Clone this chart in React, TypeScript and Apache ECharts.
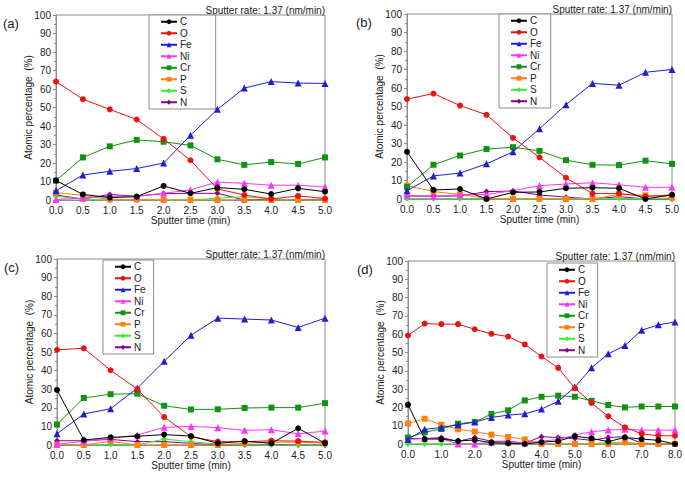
import React, { useEffect, useRef } from "react";
import * as echarts from "echarts";

const ELEMENTS = ["C", "O", "Fe", "Ni", "Cr", "P", "S", "N"];
const COLORS = ["#000000", "#ee1111", "#1f1fd0", "#ff33ff", "#119311", "#ff7f10", "#33ee33", "#880088"];
const SYMBOLS = ["circle", "circle", "triangle", "triangle", "rect", "rect", "diamond", "diamond"];
const SYMSIZE = [6, 6, 7, 7, 6, 6, 6, 6];

const T5 = [0, 0.5, 1, 1.5, 2, 2.5, 3, 3.5, 4, 4.5, 5];
const T8 = [0, 0.5, 1, 1.5, 2, 2.5, 3, 3.5, 4, 4.5, 5, 5.5, 6, 6.5, 7, 7.5, 8];

// Panel (a)
const aC = [10.5, 3, 1.3, 1.8, 7.6, 3.6, 6.7, 5.8, 3.2, 6.3, 4.5];
const aO = [64, 54.5, 49, 43.5, 33, 21.5, 6, 2.7, 0.5, 2.2, 0.8];
const aFe = [5, 13.5, 15.5, 17, 20, 35, 49, 60.5, 64, 63.2, 63];
const aNi = [0.3, 1, 2, 2, 3.6, 5.5, 9.7, 9, 8, 8, 7];
const aCr = [10.5, 23, 29, 32.5, 31.5, 29.5, 22, 19, 20.5, 19.5, 23];
const aP = [4, 2.5, 0.3, 0.3, 0, 0, 0, 0, 0, 0, 0];
const aS = [2, 0.5, 0, 0, 0, 0, 1, 1.8, 0.5, 0, 0];
const aN = [2.7, 0.5, 3, 2, 3.5, 3.6, 3.6, 0, 0.5, 0, 0.5];

// Panel (b)
const bC = [25.5, 4.9, 5.4, 0, 3.6, 3.8, 5.8, 6.1, 5.8, 0, 2.3];
const bO = [54, 57, 50.5, 45.5, 33, 22.5, 11.5, 2.9, 3, 1.3, 2.3];
const bFe = [4.5, 12.5, 14, 19, 25.5, 38, 51, 62.5, 61.5, 68.5, 70];
const bNi = [2, 1.3, 2.2, 2.5, 4.5, 7.2, 8.1, 8.8, 7.7, 6.3, 6.3];
const bCr = [6.5, 18.5, 23.5, 27, 28, 26, 21, 18.5, 18.3, 20.7, 19];
const bP = [7.2, 4, 2.5, 0.3, 0, 0, 0, 0, 2.5, 2, 0.8];
const bS = [0.2, 0.2, 0.2, 0.3, 0, 0, 0.3, 0.2, 0.3, 0.2, 0.2];
const bN = [1.6, 1.6, 1.6, 4, 4.3, 2.2, 1, 0, 1.3, 0, 0];

// Panel (c)
const cC = [29.6, 2.7, 4.1, 4.7, 5.6, 4.8, 0.9, 2.1, 0.9, 9, 0.9];
const cO = [51.2, 52, 40.2, 30, 15, 4.5, 1.8, 1.8, 2.3, 2.1, 1.4];
const cFe = [6, 16.7, 19.5, 30.6, 45, 59, 68.2, 67.7, 67.2, 63.2, 68.2];
const cNi = [0.4, 2, 3.6, 5.4, 9.5, 10, 9.3, 7.9, 8.2, 6, 7.5];
const cCr = [11, 25.3, 27.3, 27.6, 21.1, 19.1, 19.2, 19.9, 20.1, 20.1, 22.5];
const cP = [0, 0, 2, 0, 0, 0, 0, 1, 1.5, 1.5, 1];
const cS = [0.3, 0, 0.3, 0, 3.2, 1.8, 0.5, 0.2, 0, 0, 0];
const cN = [2.3, 2.3, 3, 1.8, 1.8, 0.9, 0, 0, 0.4, 0, 0];

// Panel (d)
const dC = [21.5, 2.7, 2.7, 1.6, 2.2, 0.7, 0.4, 0, 1, 1.6, 4.3, 3.1, 1.3, 3.6, 2.7, 2, 0];
const dO = [59.3, 65.8, 65.5, 65.5, 62.7, 60.2, 58.7, 54.4, 47.8, 41.6, 30.5, 22.4, 15.1, 9.1, 5.6, 4.5, 4.5];
const dFe = [2.5, 8, 9, 10.5, 12, 14.5, 15.8, 16.5, 19.1, 23.3, 31.1, 41.6, 49.3, 53.8, 62.2, 65.1, 66.7];
const dNi = [2.5, 3, 3, 0, 0, 1, 1, 0.5, 1.5, 2.5, 4.9, 6.7, 7.6, 8, 7.6, 7.6, 7.6];
const dCr = [3.5, 6.4, 8.2, 11.1, 12, 16.4, 18.4, 23.8, 25.8, 26.4, 25.8, 23.6, 21.3, 20, 20.5, 20.5, 20.5];
const dP = [11.2, 13.8, 10.5, 8, 6.8, 5.1, 3.9, 2.5, 0, 0, 0, 0, 0, 1, 0, 0, 0];
const dS = [0, 0, 0, 0, 0, 0, 0, 0, 0, 0, 0, 0, 1, 0.5, 0, 0, 0];
const dN = [3, 3, 3.5, 1.5, 3.5, 1.5, 1.5, 0.5, 4, 3.5, 3, 2, 3.5, 4, 0.5, 0, 0];

const PANEL_LABELS = ["(a)", "(b)", "(c)", "(d)"];
const RATE_TEXT = "Sputter rate: 1.37 (nm/min)";
const Y_NAME = "Atomic percentage  (%)";
const X_NAME = "Sputter time (min)";

const PANELS = [
  { t: T5, xmax: 5, xint: 0.5, series: [aC, aO, aFe, aNi, aCr, aP, aS, aN] },
  { t: T5, xmax: 5, xint: 0.5, series: [bC, bO, bFe, bNi, bCr, bP, bS, bN] },
  { t: T5, xmax: 5, xint: 0.5, series: [cC, cO, cFe, cNi, cCr, cP, cS, cN] },
  { t: T8, xmax: 8, xint: 1, series: [dC, dO, dFe, dNi, dCr, dP, dS, dN] },
];

// layout (pixels)
const GRIDS = [
  { left: 56, top: 15, width: 269, height: 185 },
  { left: 407, top: 14, width: 265, height: 185 },
  { left: 57, top: 259, width: 268, height: 186 },
  { left: 408, top: 261, width: 267, height: 183 },
];
const LEGENDS = [
  { left: 149, top: 15, padR: 24 },
  { left: 499, top: 14, padR: 9 },
  { left: 103, top: 260, padR: 8 },
  { left: 547, top: 263, padR: 8 },
];
const FONT = "Liberation Sans, Arial, sans-serif";
const AXIS_GRAY = "#8c8c8c";

export default function App() {
  const ref = useRef<HTMLDivElement>(null);
  useEffect(() => {
    document.body.style.margin = "0";
    const chart = echarts.init(ref.current!, null, { renderer: "svg" });
    const grid: any[] = [];
    const xAxis: any[] = [];
    const yAxis: any[] = [];
    const series: any[] = [];
    const legend: any[] = [];
    const graphic: any[] = [];
    PANELS.forEach((p, i) => {
      const g = GRIDS[i];
      grid.push({ ...g, show: true, borderColor: AXIS_GRAY, borderWidth: 1, backgroundColor: "transparent" });
      xAxis.push({
        type: "value",
        gridIndex: i,
        min: 0,
        max: p.xmax,
        interval: p.xint,
        name: X_NAME,
        nameLocation: "middle",
        nameGap: 15,
        nameTextStyle: { fontFamily: FONT, fontSize: 10, color: "#222" },
        axisLine: { lineStyle: { color: AXIS_GRAY } },
        axisTick: { show: true, inside: true, length: 3, lineStyle: { color: AXIS_GRAY } },
        minorTick: { show: p.xint === 1, splitNumber: 2, length: 2, lineStyle: { color: AXIS_GRAY } },
        splitLine: { show: false },
        axisLabel: {
          fontFamily: FONT,
          fontSize: 10,
          color: "#222",
          margin: 5,
          formatter: (v: number) => v.toFixed(1),
        },
      });
      yAxis.push({
        type: "value",
        gridIndex: i,
        min: 0,
        max: 100,
        interval: 10,
        axisLine: { show: true, lineStyle: { color: AXIS_GRAY } },
        axisTick: { show: true, inside: false, length: 3, lineStyle: { color: AXIS_GRAY } },
        minorTick: { show: true, splitNumber: 2, length: 2, lineStyle: { color: AXIS_GRAY } },
        splitLine: { show: false },
        axisLabel: { fontFamily: FONT, fontSize: 10, color: "#222", margin: 5 },
      });
      p.series.forEach((vals, k) => {
        series.push({
          type: "line",
          name: ELEMENTS[k],
          xAxisIndex: i,
          yAxisIndex: i,
          data: vals.map((v, j) => [p.t[j], v]),
          symbol: SYMBOLS[k],
          symbolSize: SYMSIZE[k],
          showAllSymbol: true,
          lineStyle: { color: COLORS[k], width: 1 },
          itemStyle: { color: COLORS[k] },
          z: 10 - k,
        });
      });
      const L = LEGENDS[i];
      legend.push({
        left: L.left,
        top: L.top,
        orient: "vertical",
        data: ELEMENTS,
        selectedMode: false,
        itemWidth: 16,
        itemHeight: 6,
        itemGap: 0,
        padding: [1, L.padR, 1, 11],
        borderColor: AXIS_GRAY,
        borderWidth: 1,
        backgroundColor: "#fff",
        textStyle: { fontFamily: FONT, fontSize: 10, color: "#222", lineHeight: 11.5, padding: [0, 0, 0, -2] },
      });
      const right = g.left + g.width;
      graphic.push({
        type: "text",
        x: right,
        y: g.top - 5,
        style: { text: RATE_TEXT, fontFamily: FONT, fontSize: 10, fill: "#222", align: "right", verticalAlign: "middle" },
      });
      graphic.push({
        type: "text",
        x: g.left - 53 + (i % 2 === 1 ? 2 : 0),
        y: g.top + 8,
        style: { text: PANEL_LABELS[i], fontFamily: FONT, fontSize: 13, fill: "#222", align: "left", verticalAlign: "middle" },
      });
      graphic.push({
        type: "text",
        x: g.left - 28,
        y: g.top + g.height * 0.5,
        rotation: Math.PI / 2,
        style: { text: Y_NAME, fontFamily: FONT, fontSize: 10, fill: "#222", align: "center", verticalAlign: "middle" },
      });
    });
    chart.setOption({
      animation: false,
      backgroundColor: "#fff",
      grid,
      xAxis,
      yAxis,
      series,
      legend,
      graphic,
    });
    return () => chart.dispose();
  }, []);
  return <div ref={ref} style={{ width: 685, height: 477 }} />;
}
